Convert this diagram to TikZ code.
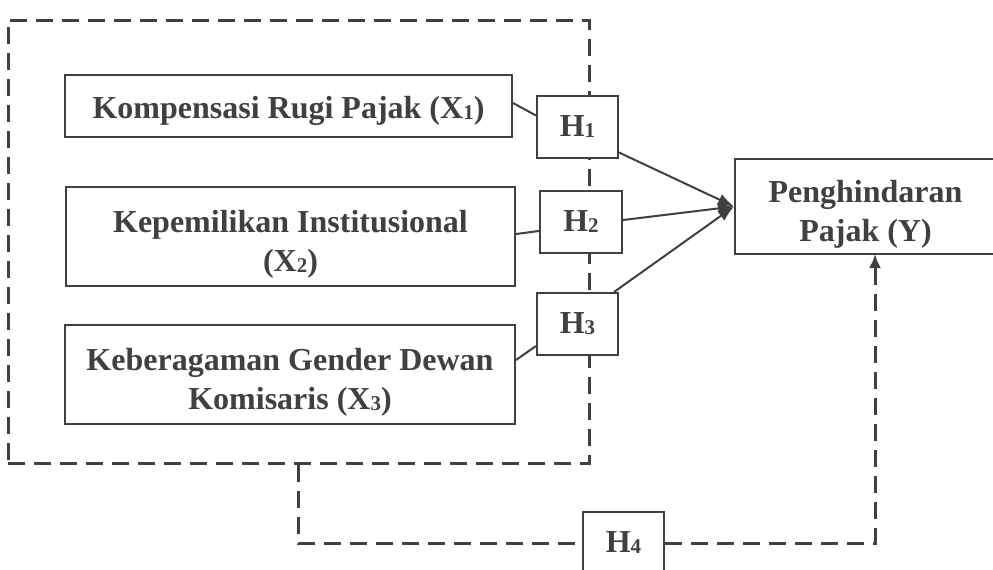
\documentclass[tikz,border=0pt]{standalone}
\usepackage{fontspec}
\setmainfont{Liberation Serif}
\usetikzlibrary{arrows.meta,calc}
\definecolor{ink}{HTML}{404040}
\newcommand{\sbs}[1]{\raisebox{-1pt}{\fontsize{21}{21}\selectfont #1}}
\newcommand{\lowr}{\rule{0pt}{37pt}}
\newcommand{\lowrs}{\rule{0pt}{33pt}}
\begin{document}
\begin{tikzpicture}[x=1pt,y=-1pt,
  box/.style={draw=ink,line width=2pt,fill=white,inner sep=0pt,align=center,
    text=ink,font=\fontsize{32}{39}\selectfont\bfseries},
  hbox/.style={box,minimum width=81pt,minimum height=62pt},
  dashline/.style={draw=ink,line width=3pt,dash pattern=on 17pt off 9pt},
  link/.style={draw=ink,line width=2pt},
  arr/.style={link,-{Latex[length=16pt,width=12pt]}}]
\clip (0,0) rectangle (993,570);
\fill[white] (0,0) rectangle (993,570);
% dashed group frame
\node[dashline,minimum width=581pt,minimum height=443pt,inner sep=0pt] (grp) at (298.5,241.5) {};
% variable boxes
\node[box,minimum width=447pt,minimum height=62pt] (x1) at (288.5,106) {\lowrs Kompensasi Rugi Pajak (X\sbs{1})};
\node[box,minimum width=449pt,minimum height=99pt] (x2) at (290.5,236.5) {\lowr Kepemilikan Institusional\\(X\sbs{2})};
\node[box,minimum width=450pt,minimum height=99pt] (x3) at (290,374.5) {\lowr Keberagaman Gender Dewan\\Komisaris (X\sbs{3})};
\node[box,minimum width=261pt,minimum height=95pt] (y) at (865.5,206.5) {\lowr Penghindaran\\Pajak (Y)};
% hypothesis boxes
\node[hbox] (h1) at (577.5,126.5) {H\sbs{1}};
\node[hbox,minimum width=82pt] (h2) at (581,221.5) {H\sbs{2}};
\node[hbox] (h3) at (577.5,324) {H\sbs{3}};
\node[hbox] (h4) at (623.5,543) {H\sbs{4}};
% connectors
\coordinate (yin) at (875,254);
\draw[link] ($(x1.east)+(0,-3)$) -- ($(h1.west)+(0,-11)$);
\draw[link] ($(x2.east)+(0,-2.5)$) -- ($(h2.west)+(0,9.5)$);
\draw[link] ($(x3.east)+(0,-14.5)$) -- ($(h3.south west)+(0,-10)$);
\draw[arr] ($(h1.south east)+(0,-6)$) -- (y.west);
\draw[arr] ($(h2.east)+(0,-1.5)$) -- (y.west);
\draw[arr] ($(h3.north east)+(-5,0)$) -- (y.west);
\draw[dashline] (grp.south) |- (h4.west);
\draw[dashline,-{Latex[length=14pt,width=12pt]}] (h4.east) -| (yin);
\end{tikzpicture}
\end{document}
